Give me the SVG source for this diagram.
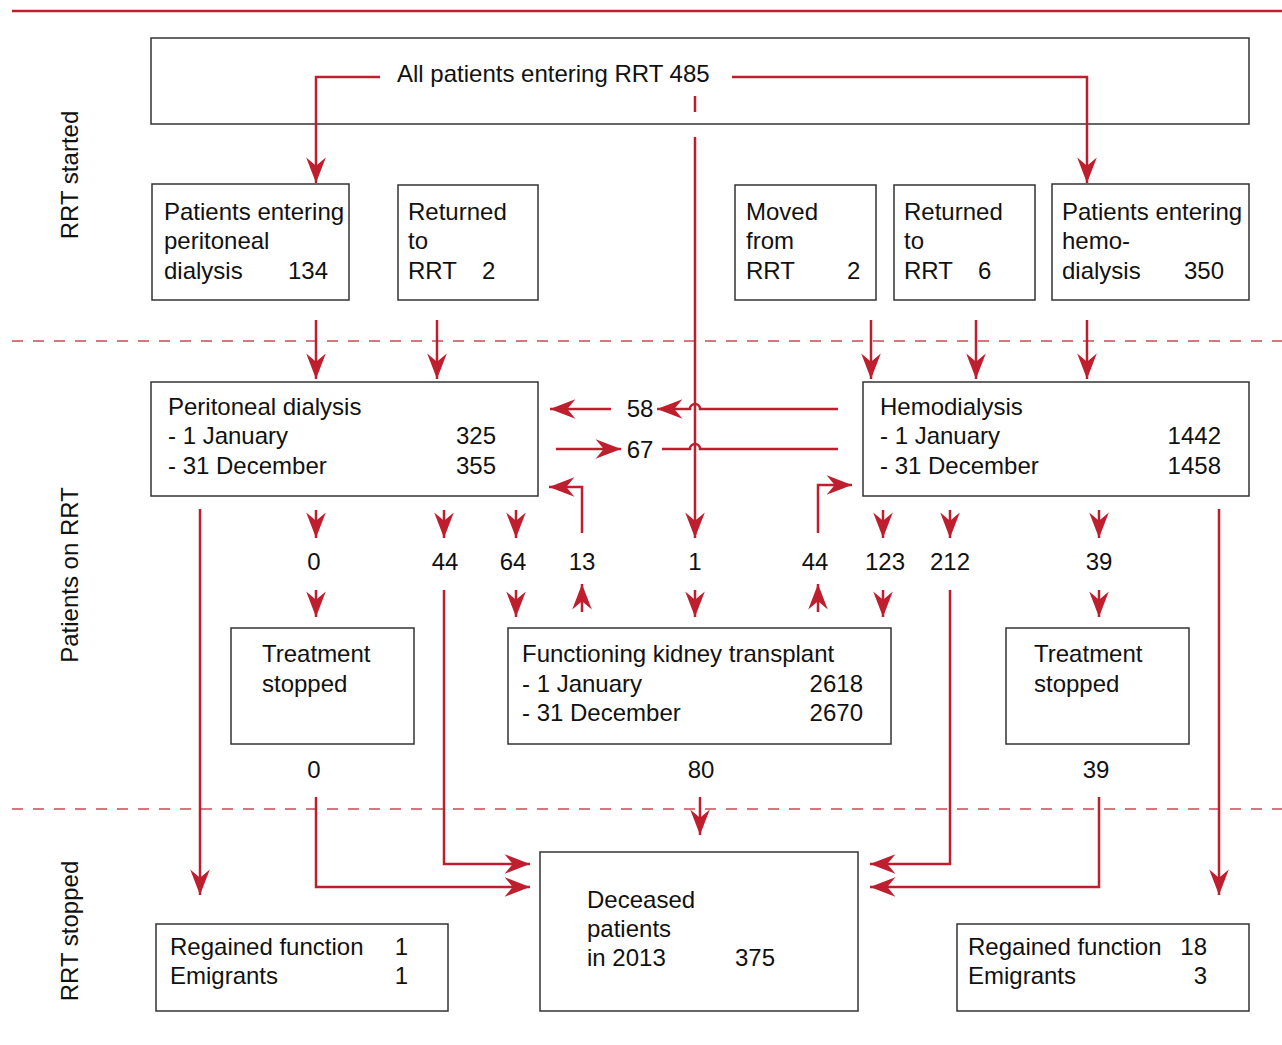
<svg xmlns="http://www.w3.org/2000/svg" width="1282" height="1045" viewBox="0 0 1282 1045">
<style>
text{font-family:"Liberation Sans",Arial,sans-serif;font-size:24px;fill:#111}
.e{text-anchor:end}
.m{text-anchor:middle}
.box{fill:#fff;stroke:#333;stroke-width:1.5}
.c{fill:none;stroke:#BE1E2D;stroke-width:2.5}
.a{marker-end:url(#ah)}
.sep{stroke:#BE1E2D;stroke-width:1.5;stroke-dasharray:11 10;opacity:0.8}
</style>
<defs>
<marker id="ah" markerUnits="userSpaceOnUse" markerWidth="30" markerHeight="30" viewBox="-24 -10 26 20" refX="0" refY="0" orient="auto">
<path d="M0,0 L-22,-8.5 L-15,0 L-22,8.5 Z" fill="#BE1E2D"/>
</marker>
</defs>
<line x1="12" y1="11" x2="1282" y2="11" stroke="#BE1E2D" stroke-width="2.5"/>
<line class="sep" x1="12" y1="341" x2="1282" y2="341"/>
<line class="sep" x1="12" y1="809" x2="1282" y2="809"/>
<g id="labels">
<text class="m" transform="translate(78,175) rotate(-90)">RRT started</text>
<text class="m" transform="translate(78,575) rotate(-90)">Patients on RRT</text>
<text class="m" transform="translate(78,931) rotate(-90)">RRT stopped</text>
</g>
<g id="n-all"><rect class="box" x="151" y="38" width="1098" height="86"/><text x="397" y="82">All patients entering RRT 485</text></g>
<g id="n-pde"><rect class="box" x="152" y="184" width="197" height="116"/><text x="164" y="220">Patients entering</text><text x="164" y="249">peritoneal</text><text x="164" y="279">dialysis</text><text x="288" y="279">134</text></g>
<g id="n-ret2"><rect class="box" x="398" y="185" width="140" height="115"/><text x="408" y="220">Returned</text><text x="408" y="249">to</text><text x="408" y="279">RRT</text><text x="482" y="279">2</text></g>
<g id="n-moved"><rect class="box" x="735" y="185" width="141" height="115"/><text x="746" y="220">Moved</text><text x="746" y="249">from</text><text x="746" y="279">RRT</text><text x="847" y="279">2</text></g>
<g id="n-ret6"><rect class="box" x="894" y="185" width="141" height="115"/><text x="904" y="220">Returned</text><text x="904" y="249">to</text><text x="904" y="279">RRT</text><text x="978" y="279">6</text></g>
<g id="n-hde"><rect class="box" x="1052" y="184" width="197" height="116"/><text x="1062" y="220">Patients entering</text><text x="1062" y="249">hemo-</text><text x="1062" y="279">dialysis</text><text x="1184" y="279">350</text></g>
<g id="n-pd"><rect class="box" x="151" y="382" width="387" height="114"/><text x="168" y="415">Peritoneal dialysis</text><text x="168" y="444">- 1 January</text><text class="e" x="496" y="444">325</text><text x="168" y="474">- 31 December</text><text class="e" x="496" y="474">355</text></g>
<g id="n-hd"><rect class="box" x="863" y="382" width="386" height="114"/><text x="880" y="415">Hemodialysis</text><text x="880" y="444">- 1 January</text><text class="e" x="1221" y="444">1442</text><text x="880" y="474">- 31 December</text><text class="e" x="1221" y="474">1458</text></g>
<g id="n-tsl"><rect class="box" x="231" y="628" width="183" height="116"/><text x="262" y="662">Treatment</text><text x="262" y="692">stopped</text></g>
<g id="n-fkt"><rect class="box" x="508" y="628" width="383" height="116"/><text x="522" y="662">Functioning kidney transplant</text><text x="522" y="692">- 1 January</text><text class="e" x="863" y="692">2618</text><text x="522" y="721">- 31 December</text><text class="e" x="863" y="721">2670</text></g>
<g id="n-tsr"><rect class="box" x="1006" y="628" width="183" height="116"/><text x="1034" y="662">Treatment</text><text x="1034" y="692">stopped</text></g>
<g id="n-rgl"><rect class="box" x="156" y="924" width="292" height="87"/><text x="170" y="955">Regained function</text><text class="e" x="408" y="955">1</text><text x="170" y="984">Emigrants</text><text class="e" x="408" y="984">1</text></g>
<g id="n-dec"><rect class="box" x="540" y="852" width="318" height="159"/><text x="587" y="908">Deceased</text><text x="587" y="937">patients</text><text x="587" y="966">in 2013</text><text x="735" y="966">375</text></g>
<g id="n-rgr"><rect class="box" x="957" y="924" width="292" height="87"/><text x="968" y="955">Regained function</text><text class="e" x="1207" y="955">18</text><text x="968" y="984">Emigrants</text><text class="e" x="1207" y="984">3</text></g>
<g id="numbers">
<text class="m" x="640" y="417">58</text><text class="m" x="640" y="458">67</text>
<text class="m" x="314" y="570">0</text><text class="m" x="445" y="570">44</text><text class="m" x="513" y="570">64</text><text class="m" x="582" y="570">13</text><text class="m" x="695" y="570">1</text><text class="m" x="815" y="570">44</text><text class="m" x="885" y="570">123</text><text class="m" x="950" y="570">212</text><text class="m" x="1099" y="570">39</text>
<text class="m" x="314" y="778">0</text><text class="m" x="701" y="778">80</text><text class="m" x="1096" y="778">39</text>
</g>
<g id="connectors">
<path class="c a" d="M380,77 H316 V183"/>
<path class="c a" d="M732,77 H1087 V183"/>
<line class="c" x1="695" y1="96" x2="695" y2="112"/>
<line class="c a" x1="695" y1="137" x2="695" y2="538"/>
<line class="c a" x1="316" y1="320" x2="316" y2="379"/>
<line class="c a" x1="437" y1="320" x2="437" y2="379"/>
<line class="c a" x1="871" y1="320" x2="871" y2="379"/>
<line class="c a" x1="976" y1="320" x2="976" y2="379"/>
<line class="c a" x1="1087" y1="320" x2="1087" y2="379"/>
<path class="c a" d="M838,409 H700 A5,5 0 0 0 690,409 H657"/>
<line class="c a" x1="611" y1="409" x2="550" y2="409"/>
<line class="c a" x1="556" y1="449" x2="621" y2="449"/>
<path class="c" d="M662,449 H690 A5,5 0 0 1 700,449 H838"/>
<line class="c a" x1="316" y1="510" x2="316" y2="538"/>
<line class="c a" x1="444" y1="510" x2="444" y2="538"/>
<line class="c a" x1="516" y1="510" x2="516" y2="538"/>
<line class="c a" x1="883" y1="510" x2="883" y2="538"/>
<line class="c a" x1="950" y1="510" x2="950" y2="538"/>
<line class="c a" x1="1099" y1="510" x2="1099" y2="538"/>
<path class="c a" d="M582,533 V487 H549"/>
<path class="c a" d="M818,533 V485 H852"/>
<line class="c a" x1="316" y1="590" x2="316" y2="617"/>
<line class="c a" x1="516" y1="590" x2="516" y2="617"/>
<line class="c a" x1="582" y1="612" x2="582" y2="584"/>
<line class="c a" x1="695" y1="590" x2="695" y2="617"/>
<line class="c a" x1="818" y1="612" x2="818" y2="584"/>
<line class="c a" x1="883" y1="590" x2="883" y2="617"/>
<line class="c a" x1="1099" y1="590" x2="1099" y2="617"/>
<line class="c a" x1="200" y1="509" x2="200" y2="895"/>
<line class="c a" x1="1219" y1="509" x2="1219" y2="895"/>
<path class="c a" d="M444,590 V864 H530"/>
<path class="c a" d="M316,797 V887 H530"/>
<path class="c a" d="M950,590 V864 H870"/>
<path class="c a" d="M1099,797 V887 H870"/>
<line class="c a" x1="700" y1="797" x2="700" y2="835"/>
</g>
</svg>
